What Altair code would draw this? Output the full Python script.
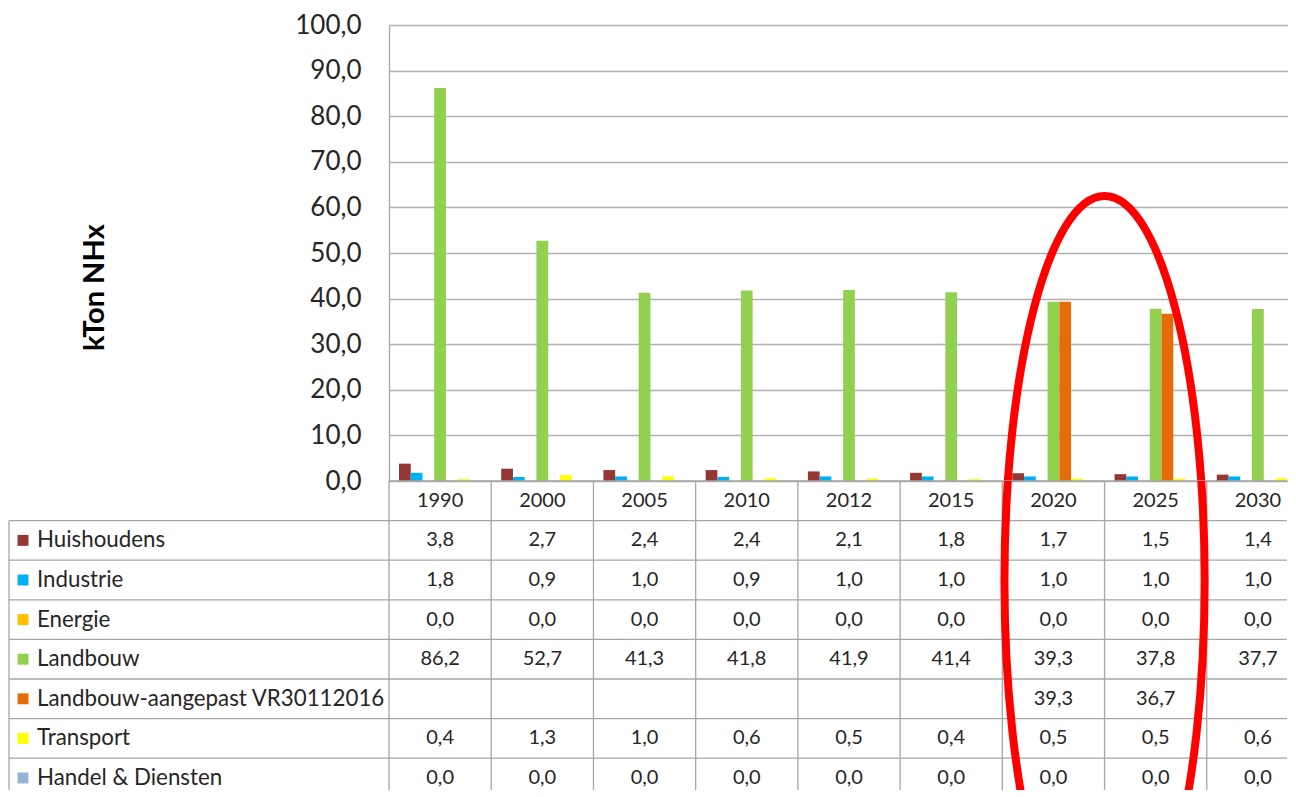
import altair as alt
import pandas as pd

# ---------------- data ----------------
years = ["1990", "2000", "2005", "2010", "2012", "2015", "2020", "2025", "2030"]
series = ["Huishoudens", "Industrie", "Energie", "Landbouw",
          "Landbouw-aangepast VR30112016", "Transport", "Handel & Diensten"]
colors = ["#953735", "#00B0F0", "#FFC000", "#92D050", "#E46C0A", "#FFFF00", "#95B3D7"]

huishoudens = [3.8, 2.7, 2.4, 2.4, 2.1, 1.8, 1.7, 1.5, 1.4]
industrie = [1.8, 0.9, 1.0, 0.9, 1.0, 1.0, 1.0, 1.0, 1.0]
energie = [0.0, 0.0, 0.0, 0.0, 0.0, 0.0, 0.0, 0.0, 0.0]
landbouw = [86.2, 52.7, 41.3, 41.8, 41.9, 41.4, 39.3, 37.8, 37.7]
landbouw_aangepast = [None, None, None, None, None, None, 39.3, 36.7, None]
transport = [0.4, 1.3, 1.0, 0.6, 0.5, 0.4, 0.5, 0.5, 0.6]
handel = [0.0, 0.0, 0.0, 0.0, 0.0, 0.0, 0.0, 0.0, 0.0]

y_ticks = [0, 10, 20, 30, 40, 50, 60, 70, 80, 90, 100]
y_title = "kTon NHx"

# annotation: red ellipse around the 2020 / 2025 columns
ellipse_year = "2025"      # ellipse centred on the left edge of this column
ellipse_row = 2.5          # vertical centre, in table rows below the axis

# ---------------- layout constants ----------------
W = 898            # visible plot width (last column is cut, as in the original)
X_RANGE = 920      # full width of the nine category columns
H_TOP = 456
ROW = 39.6
H_BOT = 309        # visible table height (last row is cut)
N_VIS = H_BOT / ROW
LABEL_W = 382
FONT = "Lato"
TXT = "#262626"
LINE = "#A6A6A6"

all_values = [huishoudens, industrie, energie, landbouw, landbouw_aangepast, transport, handel]

recs = []
for si, (s, vals) in enumerate(zip(series, all_values)):
    for y, v in zip(years, vals):
        if v is None:
            continue
        recs.append({"year": y, "series": s, "value": v,
                     "r": si + 1.5, "label": f"{v:.1f}".replace(".", ",")})
df = pd.DataFrame(recs)

xscale = alt.Scale(domain=years, paddingInner=0, paddingOuter=0, range=[0, X_RANGE])
color_scale = alt.Scale(domain=series, range=colors)

# ---------------- top: bars ----------------
ytop = alt.Scale(domain=[0, 100], nice=False, zero=True)

bars = alt.Chart(df).mark_bar(clip=True).encode(
    x=alt.X("year:N", scale=xscale, axis=None, sort=years),
    xOffset=alt.XOffset("series:N", scale=alt.Scale(domain=series, paddingInner=0, paddingOuter=0.85)),
    y=alt.Y("value:Q", scale=ytop,
            axis=alt.Axis(values=y_ticks,
                          labelExpr="replace(format(datum.value, '.1f'), '.', ',')",
                          grid=True, gridColor="#B0B0B0", gridWidth=1.3,
                          domain=True, domainColor=LINE, domainWidth=1.3,
                          ticks=False, tickSize=0,
                          labelFont=FONT, labelFontSize=26, labelColor=TXT, labelPadding=28,
                          title=y_title, titleFont=FONT, titleFontSize=29, titleFontWeight="bold",
                          titleColor="black", titleX=-295, titleY=262, titleBaseline="middle",
                          titleAngle=270)),
    color=alt.Color("series:N", scale=color_scale, legend=None),
)

ell_path = "M0,-1 A0.26,1 0 1,1 0,1 A0.26,1 0 1,1 0,-1 Z"
ell_size = (2 * 385) ** 2

ell_top_df = pd.DataFrame({"year": [ellipse_year],
                           "yv": [-(ellipse_row * 40) / (H_TOP / 100.0)]})
ell_top = alt.Chart(ell_top_df).mark_point(
    shape=ell_path, size=ell_size, filled=False, color="#FF0000",
    strokeWidth=8, opacity=1, clip=True
).encode(
    x=alt.X("year:N", scale=xscale, bandPosition=0, axis=None),
    y=alt.Y("yv:Q", scale=ytop),
)

top = alt.layer(bars, ell_top).properties(width=W, height=H_TOP)

# ---------------- bottom: data table ----------------
ybot = alt.Scale(domain=[0, N_VIS], reverse=True, nice=False, zero=False)

hdr_df = pd.DataFrame({"year": years, "r": [0.5] * len(years)})
hdr = alt.Chart(hdr_df).mark_text(font=FONT, fontSize=20, color=TXT, clip=True).encode(
    x=alt.X("year:N", scale=xscale, axis=None),
    y=alt.Y("r:Q", scale=ybot, axis=None),
    text="year:N",
)

vals = alt.Chart(df).mark_text(font=FONT, fontSize=20, color=TXT, clip=True).encode(
    x=alt.X("year:N", scale=xscale, axis=None),
    y=alt.Y("r:Q", scale=ybot, axis=None),
    text="label:N",
)

lab_df = pd.DataFrame({"series": series, "r": [i + 1.5 for i in range(len(series))]})
labels = alt.Chart(lab_df).mark_text(font=FONT, fontSize=22.3, color=TXT, align="left").encode(
    x=alt.value(-LABEL_W + 30),
    y=alt.Y("r:Q", scale=ybot, axis=None),
    text="series:N",
)
keys = alt.Chart(lab_df).mark_point(shape="square", filled=True, size=120, opacity=1).encode(
    x=alt.value(-LABEL_W + 16),
    y=alt.Y("r:Q", scale=ybot, axis=None),
    color=alt.Color("series:N", scale=color_scale, legend=None),
)

hl_df = pd.DataFrame({"r": [1, 2, 3, 4, 5, 6, 7]})
hlines = alt.Chart(hl_df).mark_rule(color=LINE, strokeWidth=1.3).encode(
    x=alt.value(-LABEL_W + 2), x2=alt.value(W),
    y=alt.Y("r:Q", scale=ybot, axis=None),
)
axis_line = alt.Chart(pd.DataFrame({"r": [0]})).mark_rule(color=LINE, strokeWidth=1.3).encode(
    x=alt.value(0), x2=alt.value(W),
    y=alt.Y("r:Q", scale=ybot, axis=None),
)
vl_df = pd.DataFrame({"year": years})
vlines = alt.Chart(vl_df).mark_rule(color=LINE, strokeWidth=1.3).encode(
    x=alt.X("year:N", scale=xscale, bandPosition=0, axis=None),
    y=alt.value(0), y2=alt.value(H_BOT),
)
left_border = alt.Chart(pd.DataFrame({"r": [1], "r2": [N_VIS]})).mark_rule(color=LINE, strokeWidth=1.3).encode(
    x=alt.value(-LABEL_W + 2),
    y=alt.Y("r:Q", scale=ybot, axis=None), y2="r2:Q",
)

ell_bot = alt.Chart(pd.DataFrame({"year": [ellipse_year],
                                  "r": [ellipse_row * 40 / ROW]})).mark_point(
    shape=ell_path, size=ell_size, filled=False, color="#FF0000",
    strokeWidth=8, opacity=1, clip=True
).encode(
    x=alt.X("year:N", scale=xscale, bandPosition=0, axis=None),
    y=alt.Y("r:Q", scale=ybot, axis=None),
)

bottom = alt.layer(hlines, axis_line, vlines, left_border, hdr, vals, labels, keys, ell_bot).properties(
    width=W, height=H_BOT)

chart = alt.vconcat(top, bottom, spacing=0, bounds="flush").properties(
    padding={"left": 0, "top": 4, "right": 0, "bottom": 0},
    background="white",
).configure_view(stroke=None)

chart.save("out.html", embed_options={"renderer": "svg", "actions": False})
